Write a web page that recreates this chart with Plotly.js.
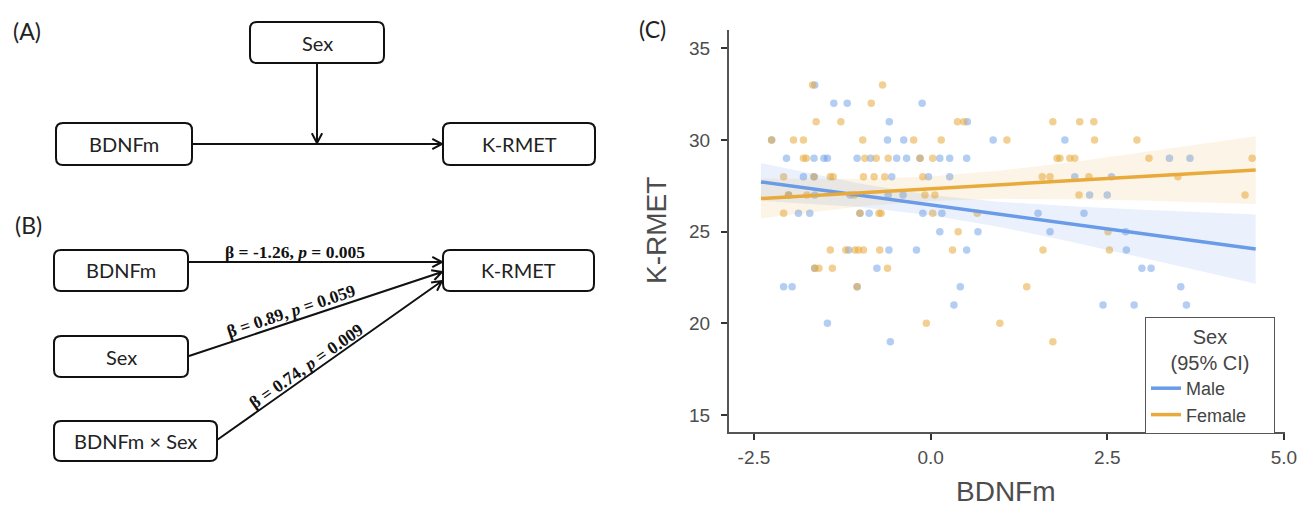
<!DOCTYPE html>
<html>
<head>
<meta charset="utf-8">
<script src="https://cdn.plot.ly/plotly-3.0.1.min.js"></script>
<style>html,body{margin:0;padding:0;background:#fff;}#chart{width:1298px;height:515px;}</style>
</head>
<body>
<div id="chart"></div>
<script>
// ---------- data (panel C) ----------
const maleX = [-1.64,
  -1.37, -1.18, -0.12,
  -0.585, 0.52,
  -2.25, -0.61, -0.38, 0.885, 1.90,
  -2.04, -1.65, -1.51, -1.46, -1.04, -0.85, -0.48, -0.34, -0.15, 0.13, 0.27, 0.51, 3.38, 3.67,
  -1.80, -1.65, -0.55, -0.03, 0.27, 2.04, 2.56,
  -2.01, -1.64, -1.14, -0.60, -0.39, 2.25, 2.50,
  -1.87, -1.71, -1.00, -0.87, -0.11, 0.16, 1.52, 2.17,
  0.13, 0.67, 1.69, 2.76,
  -1.16, -0.59, -0.20, 0.51, 2.77,
  -1.64, -0.76, 2.99, 3.12,
  -2.08, -1.96, -1.04, 0.42, 3.54,
  0.33, 2.44, 2.88, 3.62,
  -1.46,
  -0.57];
const maleY = [33,
  32, 32, 32,
  31, 31,
  30, 30, 30, 30, 30,
  29, 29, 29, 29, 29, 29, 29, 29, 29, 29, 29, 29, 29, 29,
  28, 28, 28, 28, 28, 28, 28,
  27, 27, 27, 27, 27, 27, 27,
  26, 26, 26, 26, 26, 26, 26, 26,
  25, 25, 25, 25,
  24, 24, 24, 24, 24,
  23, 23, 23, 23,
  22, 22, 22, 22, 22,
  21, 21, 21, 21,
  20,
  19];
const femaleX = [-1.67, -0.68,
  -0.84,
  -1.62, -1.27, 0.38, 0.47, 1.73, 2.11, 2.31,
  -2.25, -1.94, -1.80, -0.96, -0.24, 0.15, 1.08, 2.32, 2.92,
  -1.80, -1.76, -0.93, -0.77, -0.60, -0.15, 0.03, 1.79, 1.83, 1.97, 2.04, 3.09, 4.55,
  -2.08, -1.65, -1.42, -1.38, -0.95, -0.80, -0.65, -0.11, 1.58, 1.69, 2.24, 3.50,
  -2.01, -1.75, -1.08, -0.08, 0.06, 2.10, 4.45,
  -2.08, -1.00, -0.73, -0.70, 0.03, 0.66,
  0.39, 2.51,
  -1.42, -1.20, -1.07, -1.02, -0.95, -0.72, 0.31, 1.59, 2.53,
  -1.64, -1.58, -1.39, -0.61,
  -1.04, 1.36,
  -0.06, 0.98,
  1.73];
const femaleY = [33, 33,
  32,
  31, 31, 31, 31, 31, 31, 31,
  30, 30, 30, 30, 30, 30, 30, 30, 30,
  29, 29, 29, 29, 29, 29, 29, 29, 29, 29, 29, 29, 29,
  28, 28, 28, 28, 28, 28, 28, 28, 28, 28, 28, 28,
  27, 27, 27, 27, 27, 27, 27,
  26, 26, 26, 26, 26, 26,
  25, 25,
  24, 24, 24, 24, 24, 24, 24, 24, 24,
  23, 23, 23, 23,
  22, 22,
  20, 20,
  19];

// fitted lines and 95% CI
const fitX      = [-2.4, -1, 0, 1, 2, 3, 4.6];
const maleFit   = [27.71, 26.98, 26.45, 25.93, 25.41, 24.88, 24.05];
const maleLo    = [26.68, 26.34, 25.90, 25.24, 24.43, 23.57, 22.16];
const maleHi    = [28.74, 27.62, 27.00, 26.62, 26.39, 26.19, 25.94];
const femaleFit = [26.81, 27.12, 27.34, 27.56, 27.78, 28.01, 28.36];
const femaleLo  = [25.72, 26.37, 26.67, 26.79, 26.77, 26.70, 26.51];
const femaleHi  = [27.90, 27.87, 28.01, 28.33, 28.79, 29.33, 30.21];

const xTickVals = [-2.5, 0, 2.5, 5];
const xTickText = ['-2.5', '0.0', '2.5', '5.0'];
const yTickVals = [15, 20, 25, 30, 35];
const seriesNames = ['Male', 'Female'];
const legendTitle = ['Sex', '(95% CI)'];

// path diagram labels (panels A and B)
const betaLabels = [
  '<b>β = -1.26, <i>p</i> = 0.005</b>',
  '<b>β = 0.89, <i>p</i> = 0.059</b>',
  '<b>β = 0.74, <i>p</i> = 0.009</b>'
];

// ---------- styling ----------
const W = 1298, H = 515;
const BLUE = '#6A9BE8', ORANGE = '#E8AA3A';
const px = x => x / W;
const py = y => 1 - y / H;
const P = (x, y) => px(x).toFixed(5) + ',' + py(y).toFixed(5);
const sp = n => '&nbsp;'.repeat(n);

function roundRect(x0, y0, x1, y1, r) {
  const d = 'M' + P(x0 + r, y0) + ' L' + P(x1 - r, y0) + ' Q' + P(x1, y0) + ' ' + P(x1, y0 + r) +
    ' L' + P(x1, y1 - r) + ' Q' + P(x1, y1) + ' ' + P(x1 - r, y1) +
    ' L' + P(x0 + r, y1) + ' Q' + P(x0, y1) + ' ' + P(x0, y1 - r) +
    ' L' + P(x0, y0 + r) + ' Q' + P(x0, y0) + ' ' + P(x0 + r, y0) + ' Z';
  return {type: 'path', xref: 'paper', yref: 'paper', path: d,
          line: {color: '#111', width: 2}, fillcolor: 'rgba(0,0,0,0)'};
}
function arrow(x0, y0, x1, y1) {
  const len = Math.hypot(x1 - x0, y1 - y0);
  const bx = -(x1 - x0) / len, by = -(y1 - y0) / len;
  const L = 11, t = 28 * Math.PI / 180;
  const h1 = [x1 + L * (bx * Math.cos(t) - by * Math.sin(t)), y1 + L * (bx * Math.sin(t) + by * Math.cos(t))];
  const h2 = [x1 + L * (bx * Math.cos(-t) - by * Math.sin(-t)), y1 + L * (bx * Math.sin(-t) + by * Math.cos(-t))];
  const d = 'M' + P(x0, y0) + ' L' + P(x1, y1) + ' M' + P(h1[0], h1[1]) + ' L' + P(x1, y1) + ' L' + P(h2[0], h2[1]);
  return {type: 'path', xref: 'paper', yref: 'paper', path: d, line: {color: '#111', width: 2}};
}
function txt(text, x, y, size, opts) {
  return Object.assign({text: text, xref: 'paper', yref: 'paper', x: px(x), y: py(y),
    xanchor: 'center', yanchor: 'middle', showarrow: false,
    font: {family: 'Lato, "Open Sans", sans-serif', size: size, color: '#222'}}, opts || {});
}

const shapes = [
  // (A)
  roundRect(250, 22, 384, 63, 7),
  roundRect(56, 123, 192, 165, 7),
  roundRect(443, 123, 595, 165, 7),
  arrow(192, 144, 442, 144),
  arrow(317, 63, 317, 143),
  // (B)
  roundRect(54, 250, 188, 291, 7),
  roundRect(443, 250, 594, 291, 7),
  roundRect(54, 336, 188, 377, 7),
  roundRect(54, 421, 217, 461, 7),
  arrow(188, 262, 442, 262),
  arrow(189, 356, 442, 272),
  arrow(217, 440, 442, 281)
];

const serif = {family: '"Liberation Serif", "Times New Roman", serif', size: 17.5, color: '#111'};
const sans = {family: '"Liberation Sans", Arial, sans-serif', size: 28, color: '#4d4d4d'};
const annotations = [
  txt('(A)', 27, 31, 23),
  txt('(B)', 29, 225, 23),
  txt('(C)', 652, 29, 23),
  txt('Sex', 317, 43, 20),
  txt('BDNFm', 124, 144, 20),
  txt('K-RMET', 519, 144, 20),
  txt('BDNFm', 121, 270, 20),
  txt('K-RMET', 518, 270, 20),
  txt('Sex', 121, 357, 20),
  txt('BDNFm × Sex', 135, 441, 20),
  txt(betaLabels[0], 295, 252, 17.5, {font: serif}),
  txt(betaLabels[1], 291, 311, 17.5, {font: serif, textangle: -18.4}),
  txt(betaLabels[2], 306, 366, 17.5, {font: serif, textangle: -35}),
  // axis titles of panel C
  txt('K-RMET', 656, 231, 28, {textangle: -90, font: sans}),
  txt('BDNFm', 1006, 491, 28, {font: sans})
];

function band(lo, hi, color) {
  return {x: fitX.concat(fitX.slice().reverse()), y: hi.concat(lo.slice().reverse()),
    type: 'scatter', mode: 'lines', fill: 'toself', fillcolor: color,
    line: {width: 0, color: 'rgba(0,0,0,0)'}, hoverinfo: 'skip', showlegend: false};
}

const traces = [
  {x: maleX, y: maleY, type: 'scatter', mode: 'markers', showlegend: false,
   marker: {size: 7.5, color: BLUE, opacity: 0.5}},
  {x: femaleX, y: femaleY, type: 'scatter', mode: 'markers', showlegend: false,
   marker: {size: 7.5, color: ORANGE, opacity: 0.55}},
  band(maleLo, maleHi, 'rgba(106,155,232,0.14)'),
  band(femaleLo, femaleHi, 'rgba(232,170,58,0.13)'),
  {x: fitX, y: maleFit, type: 'scatter', mode: 'lines', name: seriesNames[0],
   line: {color: BLUE, width: 3.5}},
  {x: fitX, y: femaleFit, type: 'scatter', mode: 'lines', name: seriesNames[1],
   line: {color: ORANGE, width: 3.5}}
];

const axisFont = {family: '"Liberation Sans", Arial, sans-serif', size: 19, color: '#4d4d4d'};
const legendFont = {family: '"Liberation Sans", Arial, sans-serif', size: 18, color: '#444'};
const legendTitleFont = {family: '"Liberation Sans", Arial, sans-serif', size: 20, color: '#444'};
const layout = {
  width: W, height: H,
  margin: {l: 0, r: 0, t: 0, b: 0},
  paper_bgcolor: '#fff', plot_bgcolor: '#fff',
  showlegend: true,
  xaxis: {domain: [px(729), px(1285)], range: [-2.853, 5.015], automargin: false,
    tickvals: xTickVals, ticktext: xTickText, showgrid: false, zeroline: false,
    showline: true, linecolor: '#555', linewidth: 2, ticks: 'outside', ticklen: 6,
    tickwidth: 2, tickcolor: '#333', tickfont: axisFont, ticklabelstandoff: 1},
  yaxis: {domain: [py(432), py(30)], range: [14.07, 36.0], automargin: false,
    tickvals: yTickVals, showgrid: false, zeroline: false,
    showline: true, linecolor: '#555', linewidth: 2, ticks: 'outside', ticklen: 6,
    tickwidth: 2, tickcolor: '#333', tickfont: axisFont, ticklabelstandoff: 7},
  legend: {x: px(1145), y: py(317), xanchor: 'left', yanchor: 'top',
    bgcolor: '#fff', bordercolor: '#555', borderwidth: 1,
    font: legendFont,
    title: {text: sp(8) + legendTitle[0] + '<br>' + sp(4) + legendTitle[1] + sp(4),
            side: 'top center', font: legendTitleFont},
    itemwidth: 30, tracegroupgap: 0},
  shapes: shapes,
  annotations: annotations
};

Plotly.newPlot('chart', traces, layout, {displayModeBar: false, staticPlot: true});
</script>
</body>
</html>
